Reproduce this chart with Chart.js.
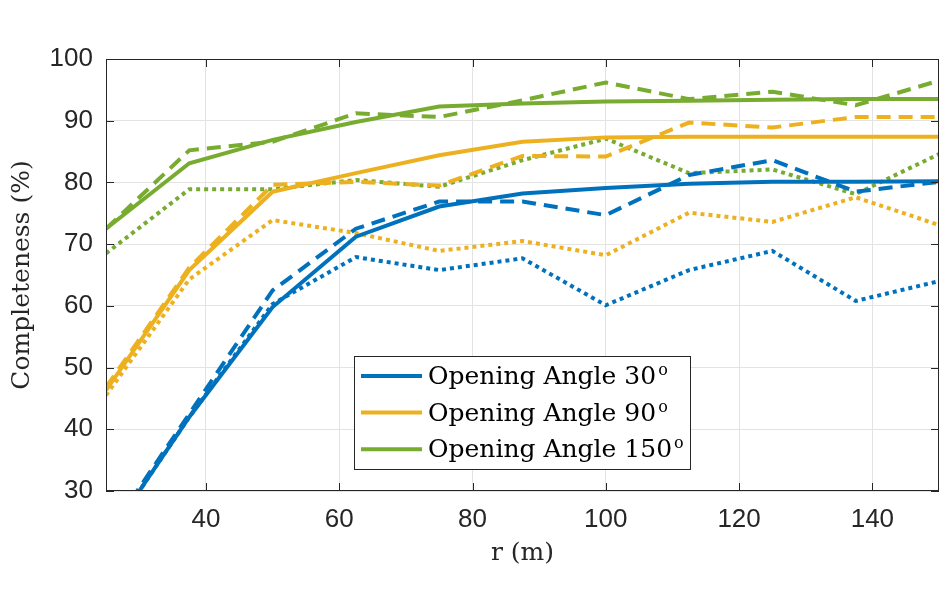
<!DOCTYPE html>
<html>
<head>
<meta charset="utf-8">
<script src="https://cdn.jsdelivr.net/npm/chart.js@4.4.0/dist/chart.umd.min.js"></script>
<style>
  html, body { margin: 0; padding: 0; background: #fff; }
</style>
</head>
<body>
<canvas id="completenessChart" width="946" height="590"></canvas>
<script>
// range bins (m) and axis ticks
const ranges = [25, 37.5, 50, 62.5, 75, 87.5, 100, 112.5, 125, 137.5, 150];
const xTicks = [40, 60, 80, 100, 120, 140];
const yTicks = [30, 40, 50, 60, 70, 80, 90, 100];

const angles = ["30", "90", "150"];

// completeness (%) per opening angle: solid / dashed / dotted runs
const solid30 = [22, 42, 59.8, 71.2, 76.1, 78.2, 79.1, 79.8, 80.1, 80.1, 80.2];
const dashed30 = [22.5, 42.5, 62.5, 72.5, 76.9, 76.9, 74.7, 81.2, 83.6, 78.5, 80.1];
const dotted30 = [22, 42, 60.3, 67.9, 65.8, 67.7, 60.1, 65.8, 68.9, 60.8, 64.0];

const solid90 = [46.3, 65.8, 78.5, 81.5, 84.4, 86.6, 87.3, 87.4, 87.4, 87.4, 87.4];
const dashed90 = [46.8, 66.2, 79.6, 80.1, 79.5, 84.3, 84.2, 89.7, 88.9, 90.6, 90.6];
const dotted90 = [45.5, 64.3, 73.9, 71.8, 68.9, 70.5, 68.2, 75.1, 73.6, 77.6, 73.1];

const solid150 = [72.5, 83.1, 86.9, 89.8, 92.3, 92.8, 93.1, 93.25, 93.4, 93.5, 93.5];
const dashed150 = [72.5, 85.2, 86.6, 91.2, 90.6, 93.3, 96.2, 93.5, 94.7, 92.5, 96.5];
const dotted150 = [68.5, 78.9, 78.9, 80.4, 79.3, 83.6, 87.1, 81.5, 82.1, 78.1, 84.6];

const colors = ["#0072BD", "#EDB120", "#77AC30"];
const axisColor = "#262626";
const gridColor = "#e3e3e3";
const tickFont = { family: "'Liberation Sans', Arial, sans-serif", size: 26 };
const serifFont = { family: "'DejaVu Serif', serif", size: 25 };

function line(values, color, dash, label) {
  return {
    label: label,
    data: ranges.map((r, i) => ({ x: r, y: values[i] })),
    borderColor: color,
    backgroundColor: color,
    borderWidth: 4,
    borderDash: dash,
    borderCapStyle: "butt",
    pointRadius: 0,
    tension: 0,
    fill: false,
  };
}

const DASH = [14, 8];
const DOT = [4, 4];

// frame with inward tick marks, like the original axes box
const framePlugin = {
  id: "frame",
  afterDatasetsDraw(chart) {
    const { ctx, chartArea: a, scales } = chart;
    ctx.save();
    ctx.strokeStyle = axisColor;
    ctx.lineWidth = 1;
    ctx.setLineDash([]);
    ctx.strokeRect(a.left + 0.5, a.top + 0.5, a.right - a.left - 1, a.bottom - a.top - 1);
    ctx.beginPath();
    xTicks.forEach((v) => {
      const px = Math.round(scales.x.getPixelForValue(v)) + 0.5;
      ctx.moveTo(px, a.bottom); ctx.lineTo(px, a.bottom - 8);
      ctx.moveTo(px, a.top); ctx.lineTo(px, a.top + 8);
    });
    yTicks.forEach((v) => {
      const py = Math.round(scales.y.getPixelForValue(v)) + 0.5;
      ctx.moveTo(a.left, py); ctx.lineTo(a.left + 8, py);
      ctx.moveTo(a.right, py); ctx.lineTo(a.right - 8, py);
    });
    ctx.stroke();
    ctx.restore();
  },
};

// legend box inside the plot, solid lines only
const legendPlugin = {
  id: "boxLegend",
  afterDraw(chart) {
    const { ctx, chartArea: a } = chart;
    const left = a.left + 248, top = a.top + 297, w = 336, h = 113;
    ctx.save();
    ctx.fillStyle = "#fff";
    ctx.fillRect(left, top, w, h);
    ctx.strokeStyle = axisColor;
    ctx.lineWidth = 1;
    ctx.strokeRect(left + 0.5, top + 0.5, w, h);
    angles.forEach((ang, i) => {
      const y = top + 20 + i * 36.6;
      ctx.strokeStyle = colors[i];
      ctx.lineWidth = 4;
      ctx.beginPath();
      ctx.moveTo(left + 7, y);
      ctx.lineTo(left + 68, y);
      ctx.stroke();
      ctx.fillStyle = "#000";
      ctx.textBaseline = "alphabetic";
      ctx.font = serifFont.size + "px " + serifFont.family;
      const txt = "Opening Angle " + ang;
      ctx.fillText(txt, left + 74, y + 8);
      const tw = ctx.measureText(txt).width;
      ctx.font = "16px " + serifFont.family;
      ctx.fillText("o", left + 76 + tw, y - 1);
    });
    ctx.restore();
  },
};

new Chart(document.getElementById("completenessChart"), {
  type: "line",
  data: {
    datasets: [
      line(solid30, colors[0], [], "Opening Angle 30"),
      line(dashed30, colors[0], DASH, "dashed 30"),
      line(dotted30, colors[0], DOT, "dotted 30"),
      line(solid90, colors[1], [], "Opening Angle 90"),
      line(dashed90, colors[1], DASH, "dashed 90"),
      line(dotted90, colors[1], DOT, "dotted 90"),
      line(solid150, colors[2], [], "Opening Angle 150"),
      line(dashed150, colors[2], DASH, "dashed 150"),
      line(dotted150, colors[2], DOT, "dotted 150"),
    ],
  },
  options: {
    responsive: false,
    animation: false,
    devicePixelRatio: 1,
    layout: { padding: { left: 0, right: 7, top: 59, bottom: 0 } },
    plugins: {
      legend: { display: false },
      tooltip: { enabled: false },
    },
    scales: {
      x: {
        type: "linear",
        min: 25,
        max: 150,
        afterBuildTicks: (s) => { s.ticks = xTicks.map((v) => ({ value: v })); },
        afterFit: (s) => { s.height = 99; },
        ticks: { font: tickFont, color: axisColor, padding: 13 },
        grid: { color: gridColor, drawTicks: false },
        border: { display: false },
        title: {
          display: true,
          text: "r (m)",
          font: serifFont,
          color: axisColor,
          padding: { top: 0, bottom: 22 },
        },
      },
      y: {
        type: "linear",
        min: 30,
        max: 100,
        afterBuildTicks: (s) => { s.ticks = yTicks.map((v) => ({ value: v })); },
        afterFit: (s) => { s.width = 106; },
        ticks: { font: tickFont, color: axisColor, padding: 13 },
        grid: { color: gridColor, drawTicks: false },
        border: { display: false },
        title: {
          display: true,
          text: "Completeness (%)",
          font: serifFont,
          color: axisColor,
          padding: { top: 7, bottom: 0 },
        },
      },
    },
  },
  plugins: [framePlugin, legendPlugin],
});
</script>
</body>
</html>
